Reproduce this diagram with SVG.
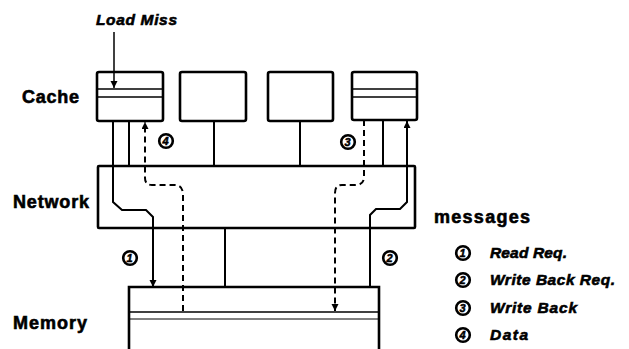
<svg xmlns="http://www.w3.org/2000/svg" width="629" height="349" viewBox="0 0 629 349">
<style>
.box{fill:#fff;stroke:#000;stroke-width:2.6}
.thin{fill:none;stroke:#000;stroke-width:1.4}
.ln{fill:none;stroke:#000;stroke-width:2}
.dash{fill:none;stroke:#000;stroke-width:2;stroke-dasharray:6 4}
.lbl{font-family:"Liberation Sans",Arial,sans-serif;font-weight:bold;font-size:18px;fill:#000;stroke:#000;stroke-width:0.6}
.it{font-family:"Liberation Sans",Arial,sans-serif;font-weight:bold;font-style:italic;font-size:15.5px;fill:#000;stroke:#000;stroke-width:0.6}
.num circle{fill:#fff;stroke:#000;stroke-width:2.6}
.num text{font-family:"Liberation Sans",Arial,sans-serif;font-weight:bold;font-style:italic;font-size:11px;fill:#000;stroke:#000;stroke-width:0.5;text-anchor:middle}
</style>
<defs>
<marker id="ah" markerUnits="userSpaceOnUse" markerWidth="8" markerHeight="8" refX="7" refY="3.5" orient="auto">
<path d="M0,0 L7,3.5 L0,7 z" fill="#000"/>
</marker>
</defs>

<g id="labels">
<text class="lbl" x="22" y="103" textLength="57">Cache</text>
<text class="lbl" x="13" y="208" textLength="76">Network</text>
<text class="lbl" x="13" y="329" textLength="74">Memory</text>
<text class="it" x="96" y="25" textLength="81">Load Miss</text>
</g>

<g id="cache1">
<rect class="box" x="97" y="72" width="66" height="49" rx="2"/>
<line class="thin" x1="97" y1="89" x2="163" y2="89"/>
<line class="thin" x1="97" y1="97" x2="163" y2="97"/>
</g>
<g id="cache2"><rect class="box" x="180" y="72" width="66" height="49" rx="2"/></g>
<g id="cache3"><rect class="box" x="268" y="72" width="65" height="49" rx="2"/></g>
<g id="cache4">
<rect class="box" x="352" y="72" width="65" height="48" rx="2"/>
<line class="thin" x1="352" y1="89" x2="417" y2="89"/>
<line class="thin" x1="352" y1="97" x2="417" y2="97"/>
</g>

<g id="network"><rect class="box" x="98" y="166" width="317" height="62" rx="1"/></g>

<g id="memory">
<path class="box" d="M129,352 V287 H379 V352" style="fill:#fff"/>
<line class="thin" x1="129" y1="312" x2="379" y2="312"/>
<line class="thin" x1="129" y1="319" x2="379" y2="319" style="stroke-width:1"/>
</g>

<g id="connectors">
<path class="ln" d="M114,32 V88" marker-end="url(#ah)" style="stroke-width:1.5"/>
<path class="ln" d="M113,121 V202 L122,210 H146 L153,217 V287" marker-end="url(#ah)"/>
<path class="ln" d="M129,121 V166"/>
<path class="dash" d="M183,311 V195 Q183,185 175,185 H152 Q145,185 145,178 V122" marker-end="url(#ah)"/>
<path class="ln" d="M214,121 V166"/>
<path class="ln" d="M300,121 V166"/>
<path class="ln" d="M225,228 V287"/>
<path class="dash" d="M364,120 V177 Q364,185 355,185 H342 Q335,185 335,193 V311" marker-end="url(#ah)"/>
<path class="ln" d="M383,120 V166"/>
<path class="ln" d="M370,287 V215 L376,209 H400 L407,202 V121" marker-end="url(#ah)"/>
</g>

<g id="flow-numbers">
<g class="num"><circle cx="130" cy="258" r="6.8"/><text x="129.5" y="262">1</text></g>
<g class="num"><circle cx="390" cy="258" r="6.8"/><text x="389.5" y="262">2</text></g>
<g class="num"><circle cx="348" cy="142" r="6.8"/><text x="347.5" y="146">3</text></g>
<g class="num"><circle cx="166" cy="141" r="6.8"/><text x="165.5" y="145">4</text></g>
</g>

<g id="legend">
<text class="lbl" x="434" y="223" textLength="96">messages</text>
<g class="num"><circle cx="463" cy="253" r="6.8"/><text x="462.5" y="257">1</text></g>
<text class="it" x="490" y="258" textLength="77">Read Req.</text>
<g class="num"><circle cx="463" cy="280" r="6.8"/><text x="462.5" y="284">2</text></g>
<text class="it" x="490" y="285" textLength="125">Write Back Req.</text>
<g class="num"><circle cx="463" cy="308" r="6.8"/><text x="462.5" y="312">3</text></g>
<text class="it" x="490" y="313" textLength="87">Write Back</text>
<g class="num"><circle cx="463" cy="335" r="6.8"/><text x="462.5" y="339">4</text></g>
<text class="it" x="490" y="340" textLength="38">Data</text>
</g>
</svg>
